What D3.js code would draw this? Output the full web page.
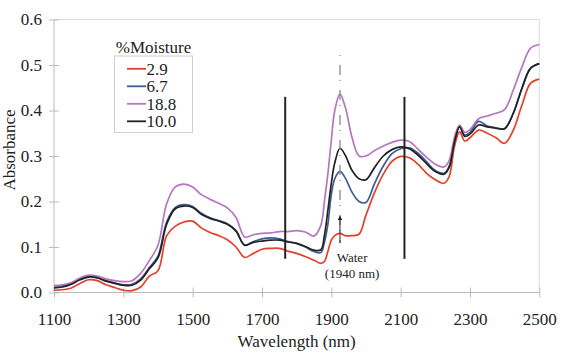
<!DOCTYPE html>
<html>
<head>
    <meta charset="utf-8">
    <title>NIR spectra vs moisture</title>
    <script src="https://d3js.org/d3.v7.min.js"></script>
    <style>
        body { margin: 0; background: #fff; }
        text { font-family: "Liberation Serif", "Times New Roman", serif; fill: #222; }
        .axis path, .axis line { stroke: #bcbcbc; }
        .axis text { font-size: 17px; fill: #222; }
    </style>
</head>
<body>
    <div id="chart"></div>

    <script>
        // Data
        var wavelengths = [1100,1125,1150,1175,1200,1225,1250,1275,1300,1325,1350,1375,1400,1425,1450,1475,1500,1525,1550,1575,1600,1625,1650,1675,1700,1725,1750,1775,1800,1825,1850,1870,1880,1890,1900,1910,1925,1940,1960,1980,2000,2025,2050,2075,2100,2125,2150,2175,2200,2225,2240,2255,2270,2285,2300,2325,2350,2375,2400,2425,2450,2475,2500];

        var moist29 = [0.005,0.006,0.010,0.020,0.028,0.026,0.017,0.011,0.005,0.004,0.012,0.036,0.048,0.125,0.146,0.155,0.157,0.142,0.132,0.125,0.116,0.100,0.077,0.086,0.095,0.097,0.097,0.091,0.086,0.079,0.071,0.064,0.068,0.090,0.115,0.125,0.130,0.125,0.125,0.128,0.170,0.220,0.260,0.288,0.299,0.296,0.282,0.262,0.248,0.240,0.255,0.320,0.353,0.333,0.340,0.357,0.350,0.340,0.328,0.357,0.412,0.460,0.469];

        var moist67 = [0.015,0.015,0.020,0.030,0.036,0.033,0.026,0.021,0.017,0.018,0.030,0.055,0.080,0.155,0.187,0.193,0.189,0.174,0.164,0.158,0.151,0.136,0.104,0.112,0.118,0.120,0.118,0.112,0.108,0.100,0.090,0.088,0.110,0.150,0.215,0.250,0.266,0.252,0.220,0.200,0.198,0.240,0.278,0.305,0.316,0.318,0.306,0.287,0.268,0.262,0.277,0.332,0.365,0.346,0.352,0.376,0.366,0.362,0.360,0.394,0.449,0.493,0.503];

        var moist188 = [0.015,0.017,0.022,0.032,0.038,0.036,0.030,0.026,0.024,0.026,0.042,0.070,0.104,0.195,0.232,0.238,0.232,0.215,0.205,0.196,0.186,0.165,0.122,0.127,0.130,0.131,0.134,0.134,0.136,0.133,0.124,0.148,0.200,0.260,0.335,0.400,0.436,0.408,0.340,0.300,0.300,0.312,0.322,0.330,0.335,0.332,0.315,0.297,0.282,0.276,0.290,0.340,0.368,0.352,0.358,0.382,0.388,0.394,0.402,0.445,0.496,0.537,0.545];

        var moist100 = [0.010,0.012,0.018,0.028,0.034,0.032,0.025,0.020,0.016,0.016,0.027,0.052,0.076,0.150,0.184,0.190,0.187,0.172,0.163,0.157,0.150,0.135,0.104,0.110,0.113,0.115,0.115,0.111,0.108,0.101,0.093,0.094,0.125,0.180,0.240,0.285,0.317,0.302,0.268,0.250,0.248,0.275,0.300,0.314,0.320,0.316,0.302,0.283,0.266,0.260,0.275,0.330,0.364,0.343,0.348,0.368,0.364,0.361,0.360,0.394,0.449,0.493,0.503];

        var seriesNames = ["2.9", "6.7", "18.8", "10.0"];
        var seriesValues = [moist29, moist67, moist188, moist100];
        var seriesColors = ["#e2402c", "#3b5b93", "#b676c0", "#222222"];

        var xTicks = [1100, 1300, 1500, 1700, 1900, 2100, 2300, 2500];
        var yTicks = [0.0, 0.1, 0.2, 0.3, 0.4, 0.5, 0.6];

        // band markers and water annotation
        var bandLines = [1767, 2111];
        var bandRange = [0.074, 0.43];
        var waterLine = 1925;
        var waterDash = [0.109, 0.522];
        var waterArrow = [0.109, 0.164];

        var margin = { top: 19.5, right: 22.7, bottom: 62.5, left: 54 };
        var width = 562 - margin.left - margin.right;
        var height = 355 - margin.top - margin.bottom;

        var svg = d3.select("#chart")
            .append("svg")
            .attr("width", 562)
            .attr("height", 355);

        var defs = svg.append("defs");
        defs.append("marker")
            .attr("id", "arrow")
            .attr("viewBox", "0 0 6 6")
            .attr("refX", 3).attr("refY", 3)
            .attr("markerWidth", 5).attr("markerHeight", 5)
            .attr("orient", "auto")
            .append("path")
            .attr("d", "M0,0L6,3L0,6Z")
            .attr("fill", "#222");

        var g = svg.append("g")
            .attr("transform", "translate(" + margin.left + "," + margin.top + ")");

        var x = d3.scaleLinear().domain([1100, 2500]).range([0, width]);
        var y = d3.scaleLinear().domain([0, 0.6]).range([height, 0]);

        // frame (top and right)
        g.append("line").attr("x1", 0).attr("x2", width).attr("y1", 0).attr("y2", 0)
            .attr("stroke", "#dcdcdc");
        g.append("line").attr("x1", width).attr("x2", width).attr("y1", 0).attr("y2", height)
            .attr("stroke", "#dcdcdc");

        // axes
        var xAxis = g.append("g")
            .attr("class", "axis")
            .attr("transform", "translate(0," + height + ")")
            .call(d3.axisBottom(x).tickValues(xTicks).tickSize(5).tickPadding(15.5).tickFormat(d3.format("d")));
        xAxis.selectAll(".tick line").attr("y1", -5);
        xAxis.select(".domain").attr("d", "M0,0H" + width);

        var yAxis = g.append("g")
            .attr("class", "axis")
            .call(d3.axisLeft(y).tickValues(yTicks).tickSize(5).tickPadding(7).tickFormat(d3.format(".1f")));
        yAxis.selectAll(".tick line").attr("x1", 5);
        yAxis.select(".domain").attr("d", "M0," + height + "V0");
        xAxis.selectAll("text").attr("font-family", "Liberation Serif");
        yAxis.selectAll("text").attr("font-family", "Liberation Serif");

        // spectra
        var line = d3.line()
            .x(function (d, i) { return x(wavelengths[i]); })
            .y(function (d) { return y(d); })
            .curve(d3.curveCatmullRom.alpha(0.5));

        g.selectAll(".spectrum")
            .data(seriesValues)
            .enter().append("path")
            .attr("class", "spectrum")
            .attr("fill", "none")
            .attr("stroke", function (d, i) { return seriesColors[i]; })
            .attr("stroke-width", 1.7)
            .attr("d", line);

        // vertical band lines
        g.selectAll(".band")
            .data(bandLines)
            .enter().append("line")
            .attr("class", "band")
            .attr("x1", function (d) { return x(d); })
            .attr("x2", function (d) { return x(d); })
            .attr("y1", y(bandRange[0]))
            .attr("y2", y(bandRange[1]))
            .attr("stroke", "#222")
            .attr("stroke-width", 2);

        // water line (dashed) and arrow
        g.append("line")
            .attr("x1", x(waterLine)).attr("x2", x(waterLine))
            .attr("y1", y(waterDash[1])).attr("y2", y(waterDash[0]))
            .attr("stroke", "#8a8a8a")
            .attr("stroke-width", 1.3)
            .attr("stroke-dasharray", "1,9,10,5");
        g.append("line")
            .attr("x1", x(waterLine)).attr("x2", x(waterLine))
            .attr("y1", y(waterArrow[0])).attr("y2", y(waterArrow[1]))
            .attr("stroke", "#222")
            .attr("stroke-width", 1)
            .attr("marker-end", "url(#arrow)");

        g.append("text")
            .attr("x", x(1960)).attr("y", y(0.067))
            .attr("text-anchor", "middle")
            .attr("font-size", "13px")
            .text("Water");
        g.append("text")
            .attr("x", x(1960)).attr("y", y(0.032))
            .attr("text-anchor", "middle")
            .attr("font-size", "13px")
            .text("(1940 nm)");

        // legend
        var legend = svg.append("g").attr("transform", "translate(114.5,56)");
        legend.append("text")
            .attr("x", 39).attr("y", -3.5)
            .attr("text-anchor", "middle")
            .attr("font-size", "17px")
            .text("%Moisture");
        legend.append("rect")
            .attr("width", 78).attr("height", 76.5)
            .attr("fill", "none")
            .attr("stroke", "#cfcfcf");
        var item = legend.selectAll(".item")
            .data(seriesNames)
            .enter().append("g")
            .attr("class", "item")
            .attr("transform", function (d, i) { return "translate(0," + (12.8 + i * 17.5) + ")"; });
        item.append("line")
            .attr("x1", 12.5).attr("x2", 31.5)
            .attr("stroke", function (d, i) { return seriesColors[i]; })
            .attr("stroke-width", 1.8);
        item.append("text")
            .attr("x", 32).attr("y", 5.7)
            .attr("font-size", "17px")
            .text(function (d) { return d; });

        // axis titles
        svg.append("text")
            .attr("x", margin.left + width / 2).attr("y", 347)
            .attr("text-anchor", "middle")
            .attr("font-size", "17px")
            .text("Wavelength (nm)");
        svg.append("text")
            .attr("transform", "translate(15,150) rotate(-90)")
            .attr("text-anchor", "middle")
            .attr("font-size", "17px")
            .text("Absorbance");
    </script>
</body>
</html>
